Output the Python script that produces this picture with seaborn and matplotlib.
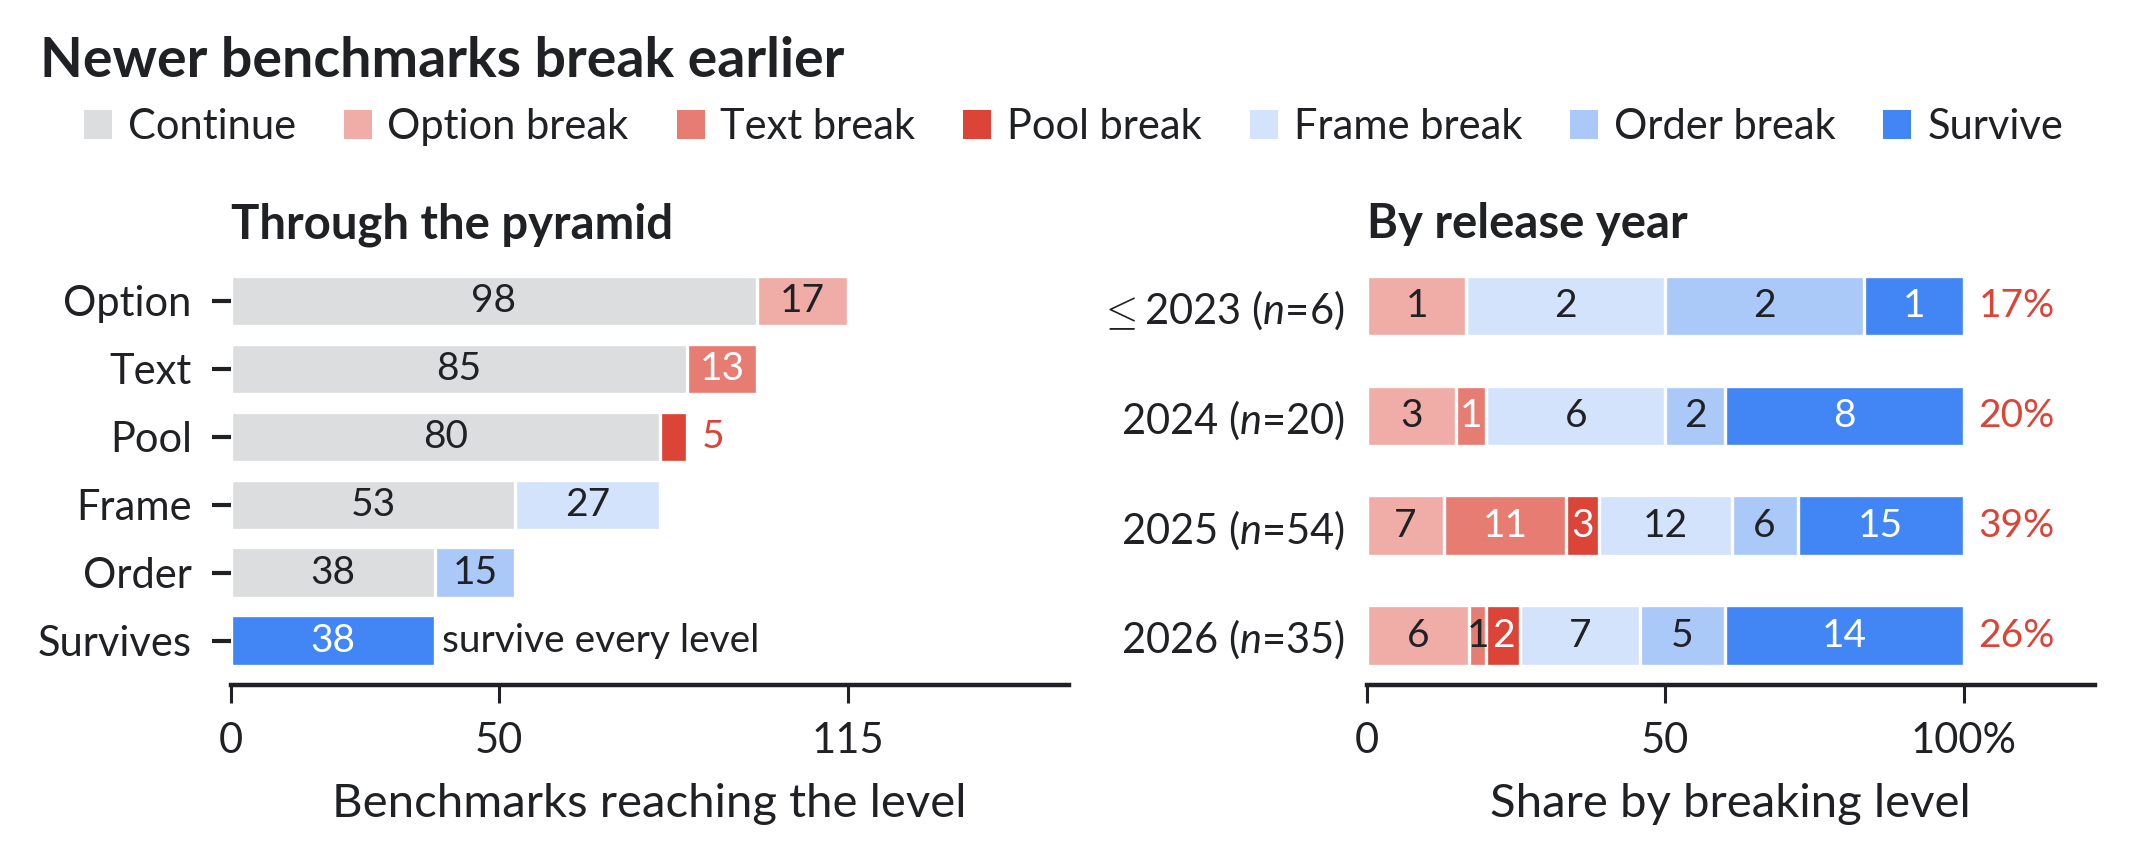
import matplotlib
matplotlib.use("Agg")
import matplotlib.pyplot as plt
from matplotlib.patches import Patch
import seaborn as sns
import pandas as pd
import numpy as np

# ---------------- data ----------------
segments = ["Continue", "Option break", "Text break", "Pool break",
            "Frame break", "Order break", "Survive"]
seg_colors = ["#DCDDDF", "#F0ADA8", "#E77C73", "#DB4437",
              "#D3E3FC", "#AAC8F8", "#4285F4"]

levels = ["Option", "Text", "Pool", "Frame", "Order", "Survives"]
level_continue = [98, 85, 80, 53, 38, 0]
level_break = [17, 13, 5, 27, 15, 38]
level_break_seg = ["Option break", "Text break", "Pool break",
                   "Frame break", "Order break", "Survive"]

years = [r"$\mathsf{\leq}$2023", "2024", "2025", "2026"]
year_n = [6, 20, 54, 35]
year_option = [1, 3, 7, 6]
year_text = [0, 1, 11, 1]
year_pool = [0, 0, 3, 2]
year_frame = [2, 6, 12, 7]
year_order = [2, 2, 6, 5]
year_survive = [1, 8, 15, 14]

# ---------------- style ----------------
sns.set_theme(style="white")
plt.rcParams["font.family"] = ["Lato", "DejaVu Sans"]
plt.rcParams["mathtext.fontset"] = "custom"
plt.rcParams["mathtext.rm"] = "Lato"
plt.rcParams["mathtext.it"] = "Lato:italic"
plt.rcParams["mathtext.bf"] = "Lato:bold"
plt.rcParams["mathtext.sf"] = "DejaVu Sans:light"

DARK = "#202124"
RED = "#DB4437"
color_of = dict(zip(segments, seg_colors))
white_segs = {"Text break", "Pool break", "Survive"}

fig = plt.figure(figsize=(10.675, 4.32), dpi=200)
ax1 = fig.add_axes([0.1080, 0.2072, 0.3925, 0.4959])
ax2 = fig.add_axes([0.6402, 0.2072, 0.3410, 0.4959])

EDGE = 1.2
LAB = 14

# ---------------- left panel ----------------
df_left = pd.DataFrame({
    "level": levels,
    "cont": level_continue,
    "brk": level_break,
    "seg": level_break_seg,
})
df_left["total"] = df_left["cont"] + df_left["brk"]

sns.barplot(data=df_left, x="total", y="level", hue="level", order=levels,
            hue_order=levels, palette=[color_of[s] for s in level_break_seg],
            legend=False, width=0.74, saturation=1, edgecolor="white",
            linewidth=EDGE, errorbar=None, ax=ax1)
df_cont = df_left[df_left["cont"] > 0]
sns.barplot(data=df_cont, x="cont", y="level", order=levels,
            color=color_of["Continue"], width=0.74, saturation=1,
            edgecolor="white", linewidth=EDGE, errorbar=None, ax=ax1)

for i, row in df_left.iterrows():
    if row["cont"] > 0:
        ax1.text(row["cont"] / 2, i, str(row["cont"]), ha="center",
                 va="center", fontsize=LAB, color=DARK)
    if row["brk"] < 8:
        ax1.text(row["total"] + 2.8, i, str(row["brk"]), ha="left",
                 va="center", fontsize=LAB, color=RED)
    else:
        c = "white" if row["seg"] in white_segs else DARK
        ax1.text(row["cont"] + row["brk"] / 2, i, str(row["brk"]),
                 ha="center", va="center", fontsize=LAB, color=c)
last = len(levels) - 1
ax1.text(df_left["total"].iloc[last] + 1.3, last, "survive every level",
         ha="left", va="center", fontsize=LAB, color=DARK)

ax1.set_xlim(0, 156)
ax1.set_ylim(5.655, -0.655)
ax1.set_xticks([0, 50, 115])
ax1.set_xticklabels(["0", "50", "115"])
ax1.set_xlabel("Benchmarks reaching the level", fontsize=17, color=DARK,
               labelpad=8)
ax1.set_ylabel("")
ax1.tick_params(axis="y", length=7, width=1.5, color=DARK, pad=7,
                labelsize=15, labelcolor=DARK, left=True)
ax1.tick_params(axis="x", length=6.5, width=1.1, color=DARK, pad=7,
                labelsize=15, labelcolor=DARK, bottom=True)

# ---------------- right panel ----------------
year_counts = [year_option, year_text, year_pool, year_frame, year_order,
               year_survive]
seg_right = segments[1:]
n_arr = np.array(year_n, dtype=float)
shares = [np.array(c) / n_arr * 100 for c in year_counts]
cums = np.cumsum(np.vstack(shares), axis=0)
ylabels = [f"{y} ($n$={n})" for y, n in zip(years, year_n)]

for k in range(len(seg_right) - 1, -1, -1):
    dfk = pd.DataFrame({"year": ylabels, "cum": cums[k]})
    sns.barplot(data=dfk, x="cum", y="year", order=ylabels,
                color=color_of[seg_right[k]], width=0.55, saturation=1,
                edgecolor="white", linewidth=EDGE, errorbar=None, ax=ax2)

for j in range(len(years)):
    for k, seg in enumerate(seg_right):
        cnt = year_counts[k][j]
        if cnt == 0:
            continue
        sh = shares[k][j]
        start = cums[k][j] - sh
        c = "white" if (seg in white_segs and sh >= 4) else DARK
        ax2.text(start + sh / 2, j, str(cnt), ha="center", va="center",
                 fontsize=LAB, color=c)
    early = year_option[j] + year_text[j] + year_pool[j]
    ax2.text(102.5, j, f"{round(100 * early / year_n[j])}%", ha="left",
             va="center", fontsize=LAB, color=RED)

ax2.set_xlim(0, 122)
ax2.set_ylim(3.45, -0.45)
ax2.set_xticks([0, 50, 100])
ax2.set_xticklabels(["0", "50", "100%"])
ax2.set_xlabel("Share by breaking level", fontsize=17, color=DARK,
               labelpad=8)
ax2.set_ylabel("")
ax2.tick_params(axis="y", length=0, pad=8, labelsize=15, labelcolor=DARK)
ax2.tick_params(axis="x", length=6.5, width=1.1, color=DARK, pad=7,
                labelsize=15, labelcolor=DARK, bottom=True)

for ax in (ax1, ax2):
    for s in ("top", "right", "left"):
        ax.spines[s].set_visible(False)
    ax.spines["bottom"].set_linewidth(1.6)
    ax.spines["bottom"].set_color(DARK)
    ax.grid(False)

# ---------------- titles & legend ----------------
fig.text(0.0187, 0.911, "Newer benchmarks break earlier", fontsize=20,
         fontweight="bold", color=DARK, ha="left", va="baseline")
fig.text(0.1080, 0.724, "Through the pyramid", fontsize=17,
         fontweight="bold", color=DARK, ha="left", va="baseline")
fig.text(0.6402, 0.724, "By release year", fontsize=17,
         fontweight="bold", color=DARK, ha="left", va="baseline")

handles = [Patch(facecolor=c, edgecolor="none") for c in seg_colors]
fig.legend(handles, segments, loc="center left",
           bbox_to_anchor=(0.0393, 0.853), ncol=7, frameon=False,
           fontsize=15, handlelength=0.67, handleheight=0.67,
           handletextpad=0.38, columnspacing=1.15, borderaxespad=0,
           borderpad=0, labelcolor=DARK)

fig.savefig("out.png", dpi=200)
